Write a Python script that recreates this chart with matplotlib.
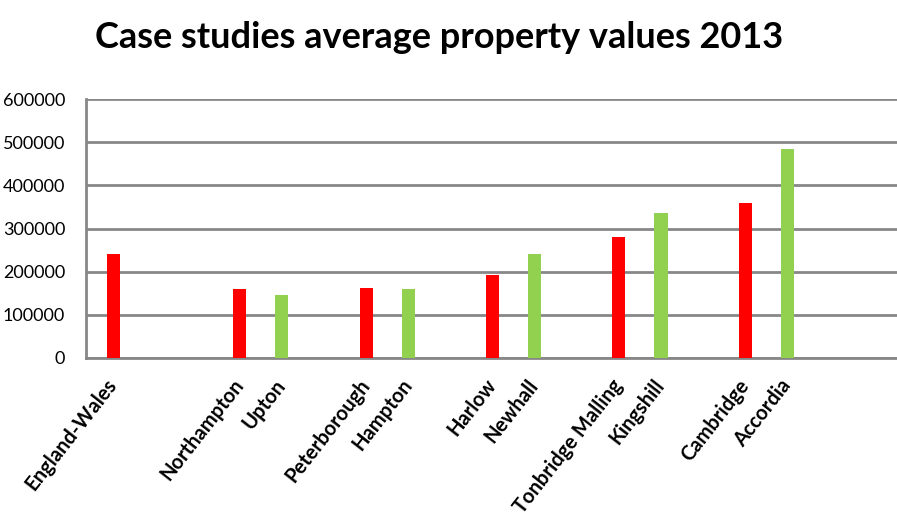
import matplotlib as mpl
import matplotlib.pyplot as plt

mpl.rc('font', family=['Lato', 'DejaVu Sans'])

# Average property values (GBP), 2013
places = ['England-Wales', 'Northampton', 'Upton', 'Peterborough', 'Hampton',
          'Harlow', 'Newhall', 'Tonbridge Malling', 'Kingshill', 'Cambridge', 'Accordia']
values = [241000, 160000, 146000, 162000, 160000,
          193000, 241000, 281000, 336000, 359000, 484000]
# slot on the category axis (gaps left between the case study pairs)
slots = [0, 3, 4, 6, 7, 9, 10, 12, 13, 15, 16]
# red = existing town, green = new development
colours = ['#FF0000', '#FF0000', '#92D050', '#FF0000', '#92D050',
           '#FF0000', '#92D050', '#FF0000', '#92D050', '#FF0000', '#92D050']

yticks = [0, 100000, 200000, 300000, 400000, 500000, 600000]

fig = plt.figure(figsize=(8.97, 5.29), dpi=100)
ax = fig.add_axes([86/897, 1 - 358/529, 1 - 86/897, (358 - 99)/529])

ax.bar(slots, values, width=0.31, color=colours, zorder=3)

ax.set_xlim(-0.646, 18.6)
ax.set_ylim(0, 600000)
ax.set_yticks(yticks)
ax.set_yticklabels([str(v) for v in yticks], fontsize=13)
ax.yaxis.grid(True, color='#878787', linewidth=2, zorder=1)

ax.set_xticks(slots)
ax.set_xticklabels(places, rotation=52, ha='right', va='center',
                   rotation_mode='anchor', fontsize=14.5, fontweight='bold')
ax.tick_params(axis='x', length=0, pad=17)
ax.tick_params(axis='y', length=0, pad=15)

for side in ['top', 'right']:
    ax.spines[side].set_visible(False)
for side in ['left', 'bottom']:
    ax.spines[side].set_color('#878787')
    ax.spines[side].set_linewidth(2)

fig.text(0.49, 0.93, 'Case studies average property values 2013',
         ha='center', va='center', fontsize=26, fontweight='bold')

fig.savefig('out.png', dpi=100)
